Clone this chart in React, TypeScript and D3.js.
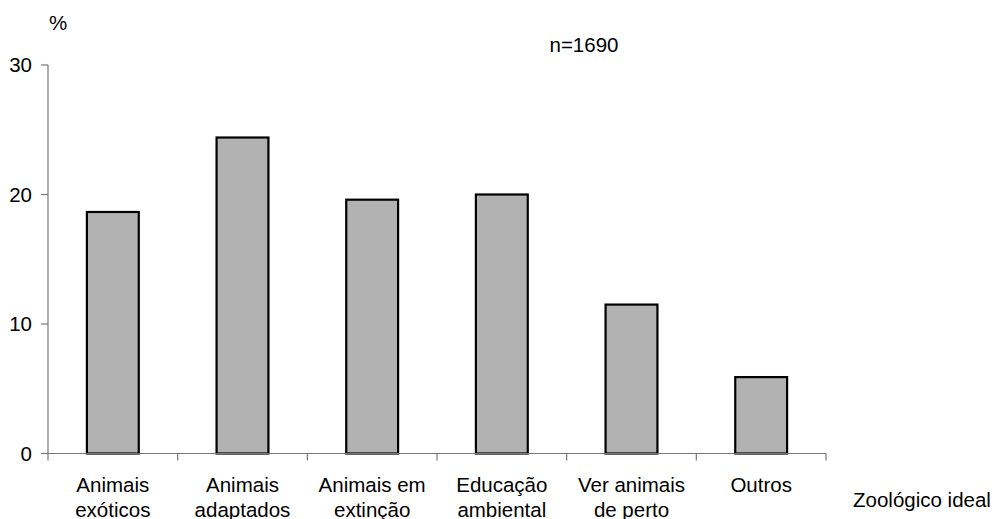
import React from "react";
import * as d3 from "d3";

const categories: string[][] = [
  ["Animais", "exóticos"],
  ["Animais", "adaptados"],
  ["Animais em", "extinção"],
  ["Educação", "ambiental"],
  ["Ver animais", "de perto"],
  ["Outros"],
];
const values: number[] = [18.65, 24.4, 19.6, 20.0, 11.5, 5.9];
const yTicks: number[] = [0, 10, 20, 30];
const yLabel = "%";
const xLabel = "Zoológico ideal";
const note = "n=1690";

const W = 998;
const H = 519;
const FONT = "'Liberation Sans', Arial, sans-serif";
const FS = 20.5;

export default function App() {
  const keys = categories.map((c) => c.join(" "));
  const x = d3.scaleBand<string>().domain(keys).range([48, 826]).paddingInner(0.6).paddingOuter(0.3);
  const y = d3.scaleLinear().domain([0, 30]).range([453.5, 65]);
  const step = x.step();
  const bw = x.bandwidth();
  const boundaries = d3.range(keys.length + 1).map((i) => 48 + i * step);

  const T = (props: { x: number; y: number; anchor?: string; children: React.ReactNode }) => (
    <text
      x={props.x}
      y={props.y}
      textAnchor={props.anchor || "start"}
      fontFamily={FONT}
      fontSize={FS}
      fill="#000"
    >
      {props.children}
    </text>
  );

  return (
    <svg width={W} height={H} style={{ position: "fixed", left: 0, top: 0, display: "block", background: "#fff" }}>
      {keys.map((k, i) => (
        <rect
          key={k}
          x={x(k)!}
          y={y(values[i])}
          width={bw}
          height={y(0) - y(values[i])}
          fill="#b2b2b2"
          stroke="#000"
          strokeWidth={2.2}
        />
      ))}
      <line x1={48} x2={48} y1={y(30)} y2={y(0)} stroke="#777" strokeWidth={1.2} />
      {yTicks.map((t) => (
        <g key={t}>
          <line x1={41} x2={48} y1={y(t)} y2={y(t)} stroke="#777" strokeWidth={1.2} />
          <T x={32} y={y(t) + 7} anchor="end">{t}</T>
        </g>
      ))}
      <line x1={48} x2={826} y1={y(0)} y2={y(0)} stroke="#777" strokeWidth={1.2} />
      {boundaries.map((b, i) => (
        <line key={i} x1={b} x2={b} y1={y(0)} y2={y(0) + 7} stroke="#777" strokeWidth={1.2} />
      ))}
      {keys.map((k, i) => (
        <g key={k}>
          {categories[i].map((line, j) => (
            <T key={j} x={x(k)! + bw / 2} y={491.5 + j * 25} anchor="middle">{line}</T>
          ))}
        </g>
      ))}
      <T x={49} y={30}>{yLabel}</T>
      <T x={584} y={52} anchor="middle">{note}</T>
      <T x={853} y={506.5}>{xLabel}</T>
    </svg>
  );
}
